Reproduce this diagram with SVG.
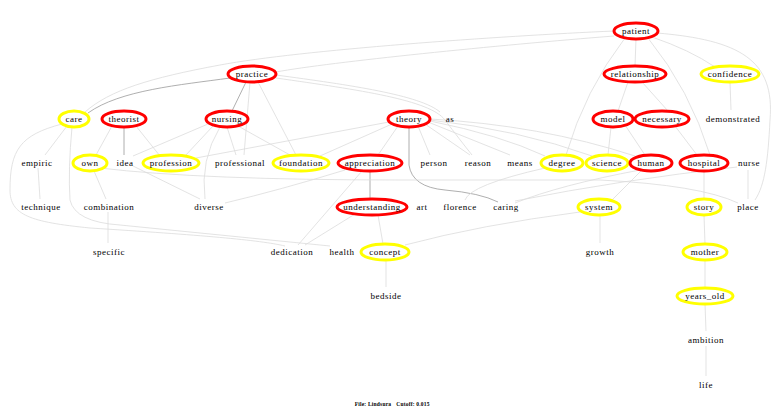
<svg xmlns="http://www.w3.org/2000/svg" width="780" height="415" viewBox="0 0 780 415">
<style>
text{font-family:"Liberation Serif","Times New Roman",serif;font-size:9px;letter-spacing:0.5px;text-anchor:middle;fill:#000}
.r{fill:#fff;stroke:#ff0000;stroke-width:3}
.y{fill:#fff;stroke:#ffff00;stroke-width:3}
#edges path{fill:none;stroke:#dcdcdc;stroke-width:0.8}
#edges path.d{stroke:#9a9a9a}
.foot{font-size:5.5px;letter-spacing:0.2px;font-weight:bold}
</style>
<rect width="780" height="415" fill="#fff"/>
<g id="edges">
<path class="d" d="M230,78 C180,85 120,90 88,113"/>
<path class="d" d="M246,82 L232,111"/>
<path class="d" d="M124,127 L124,155"/>
<path class="d" d="M409,127 L409,165 Q412,187 445,190 Q480,193 498,202"/>
<path class="d" d="M370,171 L370,199"/>
<path d="M614,31 C500,36 300,50 220,65 C150,78 110,90 85,112"/>
<path d="M614,36 C500,45 330,62 276,72"/>
<path d="M636,39 L635,66"/>
<path d="M652,37 Q690,50 715,67"/>
<path d="M625,38 Q585,90 566,155"/>
<path d="M648,38 Q690,90 710,155"/>
<path d="M657,33 C740,40 775,60 770,120 C768,160 765,185 755,200"/>
<path d="M628,82 L618,111"/>
<path d="M642,82 L668,111"/>
<path d="M730,82 L731,110"/>
<path d="M611,127 L608,155"/>
<path d="M625,125 L645,155"/>
<path d="M675,126 L697,155"/>
<path d="M704,171 L704,199"/>
<path d="M748,170 L748,199"/>
<path d="M704,215 L705,244"/>
<path d="M705,260 L705,287"/>
<path d="M705,304 L706,331"/>
<path d="M706,346 L706,376"/>
<path d="M600,215 L600,243"/>
<path d="M642,170 L612,200"/>
<path d="M418,126 L430,155"/>
<path d="M425,124 L470,155"/>
<path d="M428,122 L510,155"/>
<path d="M430,121 Q500,135 545,156"/>
<path d="M430,120 Q520,130 592,156"/>
<path d="M430,119 Q540,125 635,156"/>
<path d="M398,126 L378,155"/>
<path d="M392,124 L320,156"/>
<path d="M389,122 L196,158"/>
<path d="M213,126 L185,156"/>
<path d="M227,127 L236,155"/>
<path d="M238,126 L290,155"/>
<path d="M208,124 L133,156"/>
<path d="M220,127 Q200,160 205,199"/>
<path d="M250,82 L244,155"/>
<path d="M258,82 L296,155"/>
<path d="M276,75 C350,85 420,95 440,112"/>
<path d="M276,78 C360,90 430,100 445,120 Q460,140 472,155"/>
<path d="M112,126 L96,155"/>
<path d="M136,126 L160,156"/>
<path d="M67,126 L45,155"/>
<path d="M62,124 C20,135 10,150 10,190 C10,215 30,222 90,228 C200,235 260,240 285,246"/>
<path d="M72,127 Q68,170 70,200 Q75,222 120,225 L330,246"/>
<path d="M94,171 L106,199"/>
<path d="M108,212 L108,243"/>
<path d="M38,168 L40,199"/>
<path d="M133,166 L200,199"/>
<path d="M345,170 Q280,190 225,203"/>
<path d="M362,171 L298,245"/>
<path d="M355,214 L305,245"/>
<path d="M378,215 L383,244"/>
<path d="M386,260 L386,287"/>
<path d="M580,212 Q480,225 405,245"/>
<path d="M100,168 Q200,180 400,180 L600,180 Q700,185 738,203"/>
<path d="M545,168 Q470,185 465,200"/>
<path d="M737,167 Q620,180 515,201"/>
<path d="M640,170 Q560,185 515,203"/>
</g>
<g id="patient"><ellipse class="r" cx="636" cy="31" rx="22" ry="8"/><text x="636" y="34">patient</text></g>
<g id="practice"><ellipse class="r" cx="252" cy="74" rx="24" ry="8"/><text x="252" y="77">practice</text></g>
<g id="relationship"><ellipse class="r" cx="635" cy="74" rx="31" ry="8"/><text x="635" y="77">relationship</text></g>
<g id="confidence"><ellipse class="y" cx="730" cy="74" rx="29" ry="8"/><text x="730" y="77">confidence</text></g>
<g id="care"><ellipse class="y" cx="74" cy="119" rx="15" ry="8"/><text x="74" y="122">care</text></g>
<g id="theorist"><ellipse class="r" cx="124" cy="119" rx="22" ry="8"/><text x="124" y="122">theorist</text></g>
<g id="nursing"><ellipse class="r" cx="227" cy="119" rx="21" ry="8"/><text x="227" y="122">nursing</text></g>
<g id="theory"><ellipse class="r" cx="409" cy="119" rx="21" ry="8"/><text x="409" y="122">theory</text></g>
<g id="as"><text x="450" y="122">as</text></g>
<g id="model"><ellipse class="r" cx="613" cy="119" rx="20" ry="8"/><text x="613" y="122">model</text></g>
<g id="necessary"><ellipse class="r" cx="662" cy="119" rx="27" ry="8"/><text x="662" y="122">necessary</text></g>
<g id="demonstrated"><text x="733" y="122">demonstrated</text></g>
<g id="empiric"><text x="37" y="166">empiric</text></g>
<g id="own"><ellipse class="y" cx="90" cy="163" rx="17" ry="8"/><text x="90" y="166">own</text></g>
<g id="idea"><text x="125" y="166">idea</text></g>
<g id="profession"><ellipse class="y" cx="171" cy="163" rx="28" ry="8"/><text x="171" y="166">profession</text></g>
<g id="professional"><text x="240" y="166">professional</text></g>
<g id="foundation"><ellipse class="y" cx="301" cy="163" rx="28" ry="8"/><text x="301" y="166">foundation</text></g>
<g id="appreciation"><ellipse class="r" cx="370" cy="163" rx="32" ry="8"/><text x="370" y="166">appreciation</text></g>
<g id="person"><text x="434" y="166">person</text></g>
<g id="reason"><text x="478" y="166">reason</text></g>
<g id="means"><text x="520" y="166">means</text></g>
<g id="degree"><ellipse class="y" cx="562" cy="163" rx="21" ry="8"/><text x="562" y="166">degree</text></g>
<g id="science"><ellipse class="y" cx="607" cy="163" rx="21" ry="8"/><text x="607" y="166">science</text></g>
<g id="human"><ellipse class="r" cx="651" cy="163" rx="21" ry="8"/><text x="651" y="166">human</text></g>
<g id="hospital"><ellipse class="r" cx="704" cy="163" rx="24" ry="8"/><text x="704" y="166">hospital</text></g>
<g id="nurse"><text x="749" y="166">nurse</text></g>
<g id="technique"><text x="41" y="210">technique</text></g>
<g id="combination"><text x="109" y="210">combination</text></g>
<g id="diverse"><text x="209" y="210">diverse</text></g>
<g id="understanding"><ellipse class="r" cx="372" cy="207" rx="35" ry="8"/><text x="372" y="210">understanding</text></g>
<g id="art"><text x="422" y="210">art</text></g>
<g id="florence"><text x="460" y="210">florence</text></g>
<g id="caring"><text x="506" y="210">caring</text></g>
<g id="system"><ellipse class="y" cx="599" cy="207" rx="21" ry="8"/><text x="599" y="210">system</text></g>
<g id="story"><ellipse class="y" cx="704" cy="207" rx="17" ry="8"/><text x="704" y="210">story</text></g>
<g id="place"><text x="748" y="210">place</text></g>
<g id="specific"><text x="109" y="255">specific</text></g>
<g id="dedication"><text x="292" y="255">dedication</text></g>
<g id="health"><text x="342" y="255">health</text></g>
<g id="concept"><ellipse class="y" cx="385" cy="252" rx="24" ry="8"/><text x="385" y="255">concept</text></g>
<g id="growth"><text x="600" y="255">growth</text></g>
<g id="mother"><ellipse class="y" cx="705" cy="252" rx="22" ry="8"/><text x="705" y="255">mother</text></g>
<g id="bedside"><text x="386" y="299">bedside</text></g>
<g id="years_old"><ellipse class="y" cx="705" cy="296" rx="28" ry="8"/><text x="705" y="299">years_old</text></g>
<g id="ambition"><text x="706" y="343">ambition</text></g>
<g id="life"><text x="706" y="388">life</text></g>
<text class="foot" x="373" y="406">File: Lindsura</text>
<text class="foot" x="413" y="406">Cutoff: 0.015</text>
</svg>
